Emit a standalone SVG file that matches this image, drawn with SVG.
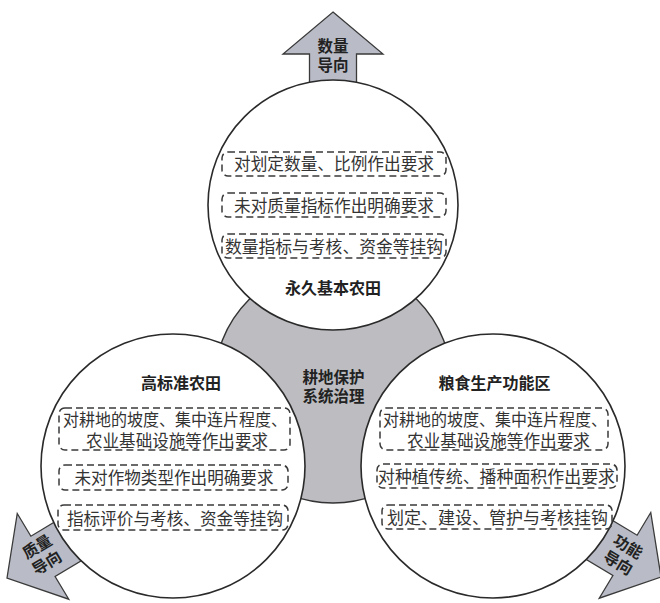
<svg xmlns="http://www.w3.org/2000/svg" width="660" height="603" viewBox="0 0 660 603">
<defs>
<style>
.bg{fill:#ffffff}
.hub{fill:#bdbdc1;stroke:#333;stroke-width:1.4}
.arrow{fill:#b9bcc6;stroke:#3a3a3a;stroke-width:1.3;stroke-linejoin:miter}
.circle{fill:#ffffff;stroke:#2a2a2a;stroke-width:1.6}
.box{fill:none;stroke:#3a3a3a;stroke-width:1.5;stroke-dasharray:7 4}
.title{font-family:"Noto Sans CJK SC","Noto Sans",sans-serif;font-size:16px;font-weight:bold;fill:#222;text-anchor:middle}
.lbl{font-family:"Noto Sans CJK SC","Noto Sans",sans-serif;font-size:15.5px;font-weight:bold;fill:#222;text-anchor:middle}
.item{font-family:"Noto Sans CJK SC","Noto Sans",sans-serif;font-size:16.5px;fill:#333;text-anchor:middle}
</style>
<path id="arrowShape" d="M0,0 L50,42 L23.5,42 L23.5,92 L-23.5,92 L-23.5,42 L-50,42 Z"/>
</defs>
<rect class="bg" x="0" y="0" width="660" height="603"/>

<g id="hub">
<circle class="hub" cx="333" cy="384" r="119"/>
</g>

<g id="arrow-quantity">
<use href="#arrowShape" class="arrow" transform="translate(333,12)"/>
</g>
<g id="arrow-quality">
<use href="#arrowShape" class="arrow" transform="translate(7,578) rotate(-121)"/>
</g>
<g id="arrow-function">
<use href="#arrowShape" class="arrow" transform="translate(661,577) rotate(121)"/>
</g>

<g id="node-permanent">
<circle class="circle" cx="333" cy="205" r="125"/>
<rect class="box" x="222" y="152" width="224" height="24" rx="6"/>
<text class="item" x="334" y="170" textLength="200" lengthAdjust="spacingAndGlyphs">对划定数量、比例作出要求</text>
<rect class="box" x="222" y="193" width="224" height="24" rx="6"/>
<text class="item" x="334" y="211.5" textLength="200" lengthAdjust="spacingAndGlyphs">未对质量指标作出明确要求</text>
<rect class="box" x="222" y="234" width="224" height="24" rx="6"/>
<text class="item" x="334" y="252.5" textLength="218" lengthAdjust="spacingAndGlyphs">数量指标与考核、资金等挂钩</text>
<text class="title" x="333" y="294">永久基本农田</text>
</g>

<g id="node-high-standard">
<circle class="circle" cx="173" cy="466" r="132"/>
<text class="title" x="181" y="389">高标准农田</text>
<rect class="box" x="59" y="408" width="231" height="42" rx="6"/>
<text class="item" x="175" y="425.5" textLength="224" lengthAdjust="spacingAndGlyphs">对耕地的坡度、集中连片程度、</text>
<text class="item" x="177" y="446.5" textLength="182" lengthAdjust="spacingAndGlyphs">农业基础设施等作出要求</text>
<rect class="box" x="59" y="465" width="229" height="25" rx="6"/>
<text class="item" x="174" y="484" textLength="199" lengthAdjust="spacingAndGlyphs">未对作物类型作出明确要求</text>
<rect class="box" x="58" y="505" width="230" height="25" rx="6"/>
<text class="item" x="175" y="525" textLength="216" lengthAdjust="spacingAndGlyphs">指标评价与考核、资金等挂钩</text>
</g>

<g id="node-grain">
<circle class="circle" cx="493" cy="466" r="132"/>
<text class="title" x="494.5" y="389">粮食生产功能区</text>
<rect class="box" x="380" y="408" width="228" height="42" rx="6"/>
<text class="item" x="495" y="425.5" textLength="224" lengthAdjust="spacingAndGlyphs">对耕地的坡度、集中连片程度、</text>
<text class="item" x="498.5" y="446.5" textLength="183" lengthAdjust="spacingAndGlyphs">农业基础设施等作出要求</text>
<rect class="box" x="377" y="464" width="240" height="24" rx="6"/>
<text class="item" x="496.5" y="483" textLength="237" lengthAdjust="spacingAndGlyphs">对种植传统、播种面积作出要求</text>
<rect class="box" x="382" y="505" width="230" height="24" rx="6"/>
<text class="item" x="497.5" y="523.5" textLength="221" lengthAdjust="spacingAndGlyphs">划定、建设、管护与考核挂钩</text>
</g>

<g id="hub-label">
<text class="lbl" x="333.5" y="382.5">耕地保护</text>
<text class="lbl" x="333.5" y="402">系统治理</text>
</g>

<g id="label-quantity">
<text class="lbl" x="333" y="52">数量</text>
<text class="lbl" x="333" y="71">导向</text>
</g>
<g id="label-quality" transform="translate(42,555) rotate(-31)">
<text class="lbl" x="0" y="-4">质量</text>
<text class="lbl" x="0" y="15">导向</text>
</g>
<g id="label-function" transform="translate(623,555) rotate(31)">
<text class="lbl" x="0" y="-4">功能</text>
<text class="lbl" x="0" y="15">导向</text>
</g>

<g id="connectors"/>
</svg>
